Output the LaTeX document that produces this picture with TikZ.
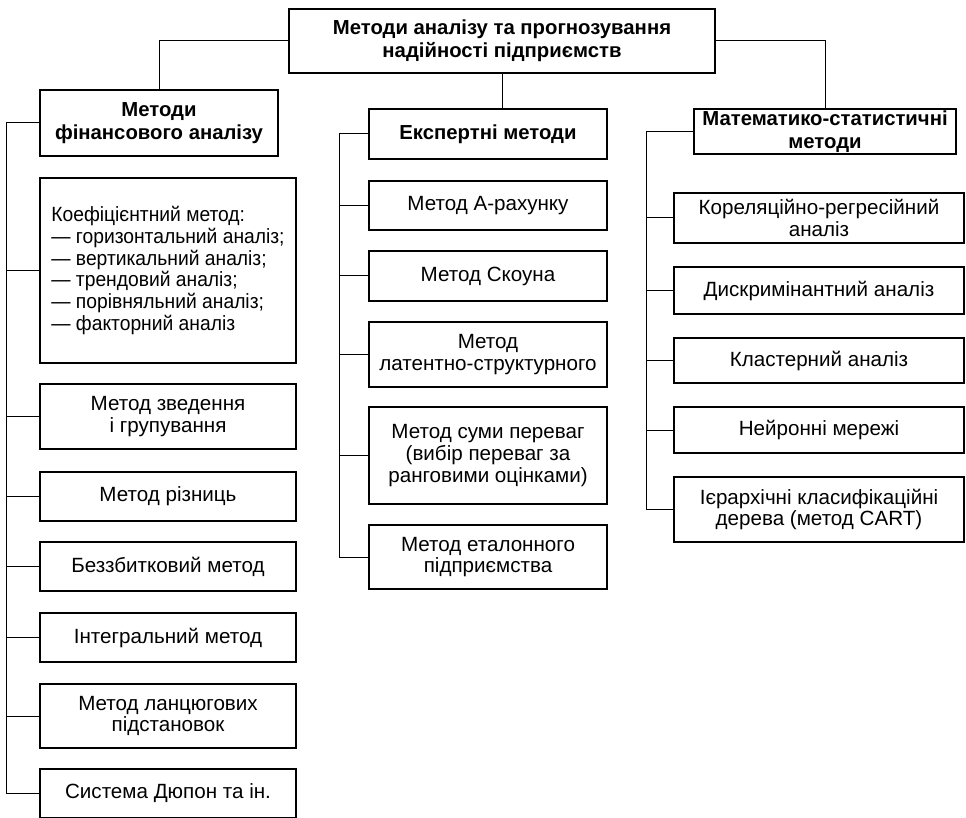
\documentclass[tikz,border=0pt]{standalone}
\usepackage{fontspec}
\setmainfont{Liberation Sans}
\newfontfamily\narrowfont{Liberation Sans}[FakeStretch=0.935]
\begin{document}
\begin{tikzpicture}[x=1pt,y=-1pt,
  box/.style={draw, line width=2pt, inner sep=0pt, align=center,
    font=\fontsize{20.6}{21.7}\selectfont},
  head/.style={box, font=\fontsize{20.3}{22.5}\selectfont\bfseries},
  lcol/.style={box, minimum width=256pt},
  mcol/.style={box, minimum width=238pt},
  rcol/.style={box, minimum width=290pt},
  conn/.style={line width=1pt}]
\useasboundingbox (0,0) rectangle (966,818);

% top level
\node[head, minimum width=426pt, minimum height=64pt] (root) at (502,41)
  {Методи аналізу та прогнозування\\надійності підприємств};
\node[head, minimum width=238pt, minimum height=66pt] (lhead) at (159,123)
  {Методи\\фінансового аналізу};
\node[head, minimum width=238pt, minimum height=50pt] (mhead) at (488,134)
  {Експертні методи};
\node[head, minimum width=262pt, minimum height=45pt] (rhead) at (825,131.5)
  {Математико-статистичні\\методи};

% financial analysis methods
\node[lcol, minimum height=185pt, align=left,
      font=\fontsize{20.6}{21.7}\narrowfont] (l1) at (168,270.5)
  {Коефіцієнтний метод:\\— горизонтальний аналіз;\\— вертикальний аналіз;\\— трендовий аналіз;\\— порівняльний аналіз;\\— факторний аналіз};
\node[lcol, minimum height=65pt] (l2) at (168,416.5) {Метод зведення\\і групування};
\node[lcol, minimum height=49pt] (l3) at (168,496.5) {Метод різниць};
\node[lcol, minimum height=49pt] (l4) at (168,566.5) {Беззбитковий метод};
\node[lcol, minimum height=49pt] (l5) at (168,637.5) {Інтегральний метод};
\node[lcol, minimum height=64pt] (l6) at (168,716) {Метод ланцюгових\\підстановок};
\node[lcol, minimum height=49pt] (l7) at (168,793.5) {Система Дюпон та ін.};

% expert methods
\node[mcol, minimum height=49pt] (m1) at (488,205.5) {Метод А-рахунку};
\node[mcol, minimum height=50pt] (m2) at (488,276) {Метод Скоуна};
\node[mcol, minimum height=65pt] (m3) at (488,354.5) {Метод\\латентно-структурного};
\node[mcol, minimum height=97pt] (m4) at (488,455.5) {Метод суми переваг\\(вибір переваг за\\ранговими оцінками)};
\node[mcol, minimum height=64pt] (m5) at (488,557) {Метод еталонного\\підприємства};

% mathematical-statistical methods
\node[rcol, minimum height=50pt] (r1) at (819,218) {Кореляційно-регресійний\\аналіз};
\node[rcol, minimum height=47pt] (r2) at (819,290.5) {Дискримінантний аналіз};
\node[rcol, minimum height=45pt] (r3) at (819,360.5) {Кластерний аналіз};
\node[rcol, minimum height=46pt] (r4) at (819,430) {Нейронні мережі};
\node[rcol, minimum height=65pt] (r5) at (819,509.5) {Ієрархічні класифікаційні\\дерева (метод CART)};

% trunk lines
\coordinate (lt) at (6,0);
\coordinate (mt) at (339,0);
\coordinate (rt) at (646,0);

% links from the root
\draw[conn] (root.west) -| (lhead.north);
\draw[conn] (root.south) -- (root.south |- mhead.north);
\draw[conn] (root.east) -| (rhead.north);

% left branch
\draw[conn] (lhead.west) -| (lt |- l7.west) -- (l7.west);
\foreach \n in {l1,l2,l3,l4,l5,l6}
  \draw[conn] (lt |- \n.west) -- (\n.west);

% middle branch
\draw[conn] (mhead.west) -| (mt |- m5.west) -- (m5.west);
\foreach \n in {m1,m2,m3,m4}
  \draw[conn] (mt |- \n.west) -- (\n.west);

% right branch
\draw[conn] (rhead.west) -| (rt |- r5.west) -- (r5.west);
\foreach \n in {r1,r2,r3,r4}
  \draw[conn] (rt |- \n.west) -- (\n.west);
\end{tikzpicture}
\end{document}
